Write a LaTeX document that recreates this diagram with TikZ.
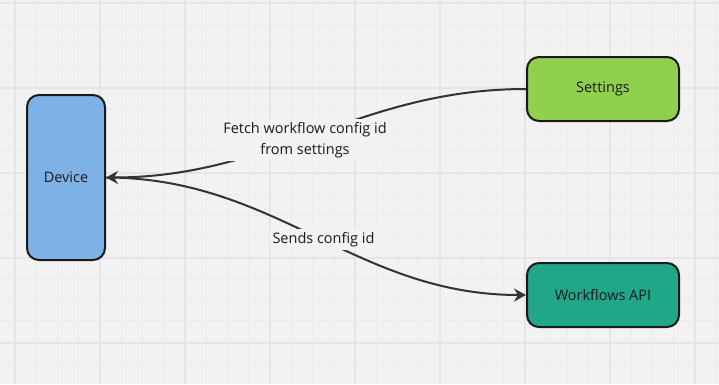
\documentclass[tikz,border=0pt]{standalone}
\usepackage{fontspec}
\setmainfont{Open Sans}
\usepackage{xcolor}
\usetikzlibrary{arrows.meta,positioning}

\definecolor{canvas}{HTML}{F2F2F2}
\definecolor{gridmajor}{HTML}{E5E5E5}
\definecolor{gridminor}{HTML}{EBEBEB}
\definecolor{deviceblue}{HTML}{7EB2E6}
\definecolor{settingsgreen}{HTML}{8FD14F}
\definecolor{apiteal}{HTML}{22A68A}
\definecolor{inkdark}{HTML}{1A1A1A}
\definecolor{arrowgray}{HTML}{333333}

\begin{document}
\begin{tikzpicture}[
  x=1pt, y=-1pt,
  every node/.style={font=\fontsize{14.5}{21}\selectfont, text=inkdark},
  box/.style={draw=inkdark, line width=2pt, rounded corners=12pt, align=center},
  arr/.style={-{Stealth[length=12pt,width=13pt,inset=4pt]}, line width=2pt, draw=arrowgray},
  lbl/.style={fill=canvas, align=center, inner sep=3pt}
]
% canvas and grid
\fill[canvas] (0,0) rectangle (719,384);
\useasboundingbox (0,0) rectangle (719,384);
\foreach \k in {0,...,33}
  \draw[gridminor, line width=1pt] ({15+21.25*\k},0) -- ++(0,384);
\foreach \k in {0,...,17}
  \draw[gridminor, line width=1pt] (0,{3+21.25*\k}) -- ++(719,0);
\foreach \k in {0,...,8}
  \draw[gridmajor, line width=1.5pt] ({15+85*\k},0) -- ++(0,384);
\foreach \k in {0,...,4}
  \draw[gridmajor, line width=1.5pt] (0,{3+85*\k}) -- ++(719,0);

\node[box, fill=deviceblue, minimum width=78pt, minimum height=165pt] (device) at (66,177.5) {Device};
\node[box, fill=settingsgreen, minimum width=152pt, minimum height=64pt] (settings) at (603,89) {Settings};
\node[box, fill=apiteal, minimum width=152pt, minimum height=64pt] (api) at (603,295) {Workflows API};

\draw[arr] (settings.west) to[out=180,in=0] node[lbl, pos=0.5, xshift=-11pt, yshift=-7pt] {Fetch workflow config id\\from settings} (device.east);
\draw[arr] (device.east) to[out=0,in=180] node[lbl, pos=0.52] {Sends config id} (api.west);
\end{tikzpicture}
\end{document}
